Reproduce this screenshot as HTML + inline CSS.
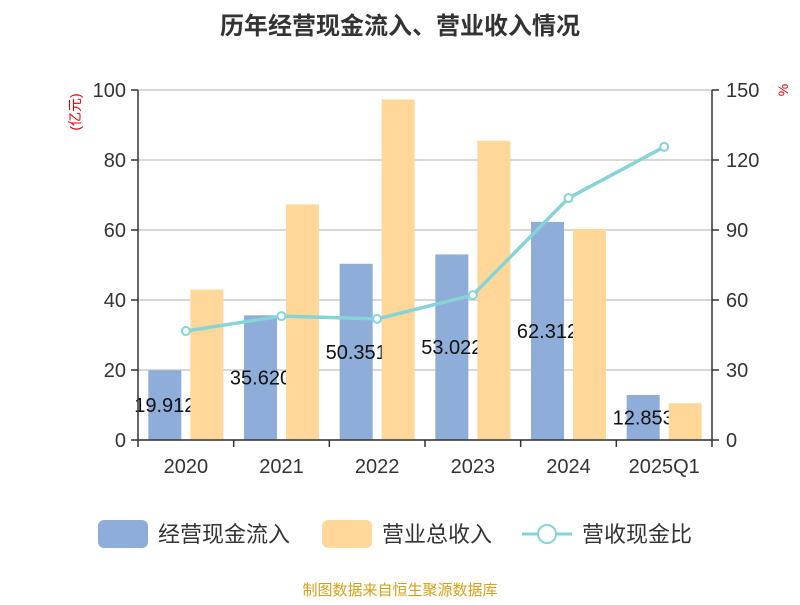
<!DOCTYPE html>
<html><head><meta charset="utf-8"><style>
body{margin:0;background:#fff;font-family:"Liberation Sans","Noto Sans CJK SC",sans-serif}
</style></head><body>
<svg id="c" width="800" height="600" xmlns="http://www.w3.org/2000/svg" font-family="'Liberation Sans','Noto Sans CJK SC',sans-serif">
<text x="400" y="34" text-anchor="middle" font-size="24" font-weight="bold" fill="#333">历年经营现金流入、营业收入情况</text>
<text x="80" y="112" font-size="14" fill="#e00" transform="rotate(-90 80 112)" text-anchor="middle">(亿元)</text>
<text x="788" y="90" font-size="14" fill="#e00" transform="rotate(-90 788 90)" text-anchor="middle">%</text>
<g id="grid"></g><g id="blue"></g><g id="labels"></g><g id="orange"></g><g id="line"></g><g id="axes"></g>
<g>
<rect x="98" y="520" width="50" height="28" rx="6" fill="#8eadd9"/>
<text x="158" y="542" font-size="22" fill="#333">经营现金流入</text>
<rect x="322" y="520" width="50" height="28" rx="6" fill="#ffd899"/>
<text x="382" y="542" font-size="22" fill="#333">营业总收入</text>
<line x1="522" y1="534" x2="572" y2="534" stroke="#86d3d8" stroke-width="3"/>
<circle cx="547" cy="534" r="9" fill="#fff" stroke="#86d3d8" stroke-width="2"/>
<text x="582" y="542" font-size="22" fill="#333">营收现金比</text>
</g>
<text x="400" y="595" text-anchor="middle" font-size="15" fill="#d4a017">制图数据来自恒生聚源数据库</text>
</svg>
<script>
const categories=["2020","2021","2022","2023","2024","2025Q1"];
const cashInflow=[19.912,35.620,50.351,53.022,62.312,12.853];
const revenue=[43.0,67.3,97.3,85.5,60.3,10.5];
const ratio=[46.7,53.1,51.9,62.1,103.7,125.6];
const leftTicks=[0,20,40,60,80,100];
const rightTicks=[0,30,60,90,120,150];
const NS="http://www.w3.org/2000/svg";
const X0=138,X1=712,Y0=440,Y1=90;
const band=(X1-X0)/categories.length;
const cx=i=>X0+band*(i+0.5);
const yL=v=>Y0-(v/100)*(Y0-Y1);
const yR=v=>Y0-(v/150)*(Y0-Y1);
function mk(tag,attrs,parent,txt){const e=document.createElementNS(NS,tag);for(const k in attrs)e.setAttribute(k,attrs[k]);if(txt!=null)e.textContent=txt;document.getElementById(parent).appendChild(e);return e;}
leftTicks.forEach((t,i)=>{
 const y=yL(t);
 const g=mk("line",{x1:X0,x2:X1,y1:y,y2:y,stroke:"#ccc","stroke-width":1.5},"grid");
 
 
 const tk=mk("line",{x1:X0-7,x2:X0,y1:y,y2:y,stroke:"#333","stroke-width":1.5},"axes");
 
 
 const l=mk("text",{x:X0-12,y:y+7,"text-anchor":"end","font-size":20,fill:"#333"},"axes",t);
 
 
});
rightTicks.forEach(t=>{
 const y=yR(t);
 const tk=mk("line",{x1:X1,x2:X1+7,y1:y,y2:y,stroke:"#333","stroke-width":1.5},"axes");
 
 
 const l=mk("text",{x:X1+14,y:y+7,"font-size":20,fill:"#333"},"axes",t);
 
 
});
let a=mk("line",{x1:X0,x2:X0,y1:Y1,y2:Y0,stroke:"#333","stroke-width":1.5},"axes");


a=mk("line",{x1:X1,x2:X1,y1:Y1,y2:Y0,stroke:"#333","stroke-width":1.5},"axes");


a=mk("line",{x1:X0,x2:X1,y1:Y0,y2:Y0,stroke:"#333","stroke-width":1.5},"axes");


for(let i=0;i<=categories.length;i++){
 const t=mk("line",{x1:X0+band*i,x2:X0+band*i,y1:Y0,y2:Y0+7,stroke:"#333","stroke-width":1.5},"axes");
 
 
}
categories.forEach((c,i)=>{
 const l=mk("text",{x:cx(i),y:473,"text-anchor":"middle","font-size":20,fill:"#333"},"axes",c);
 
 
 const bw=33;
 const b=mk("rect",{x:cx(i)-21-bw/2,y:yL(cashInflow[i]),width:bw,height:Y0-yL(cashInflow[i]),fill:"#8eadd9"},"blue");
 
 
 const o=mk("rect",{x:cx(i)+21-bw/2,y:yL(revenue[i]),width:bw,height:Y0-yL(revenue[i]),fill:"#ffd899"},"orange");
 
 
 const v=mk("text",{x:cx(i)-21,y:(yL(cashInflow[i])+Y0)/2+7,"text-anchor":"middle","font-size":20,fill:"#111"},"labels",cashInflow[i].toFixed(3));
 
 
});
const pts=ratio.map((r,i)=>cx(i)+","+yR(r)).join(" ");
const pl=mk("polyline",{points:pts,fill:"none",stroke:"#86d3d8","stroke-width":3.5},"line");


ratio.forEach((r,i)=>{
 const p=mk("circle",{cx:cx(i),cy:yR(r),r:4,fill:"#fff",stroke:"#86d3d8","stroke-width":2},"line");
 
 
});
</script>
</body></html>
